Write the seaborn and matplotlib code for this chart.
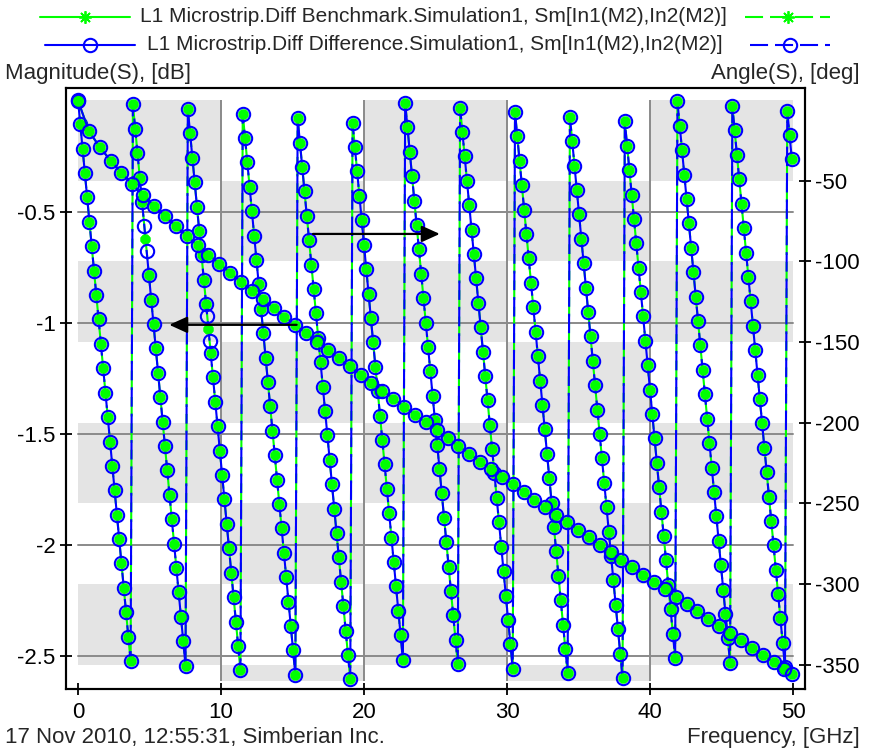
import numpy as np
import pandas as pd
import matplotlib
matplotlib.use("Agg")
import matplotlib.pyplot as plt
import matplotlib.transforms as mtransforms
from matplotlib.lines import Line2D
from matplotlib.patches import Rectangle
import seaborn as sns

# -----------------------------------------------------------------
# data (Sm[In1(M2),In2(M2)])
# -----------------------------------------------------------------

# angle trace, common to both runs
freq_ghz = [
    0.00, 0.16, 0.32, 0.48, 0.64, 0.80, 0.96, 1.12, 1.28, 1.44, 1.60, 1.76, 1.92, 2.08, 2.24, 2.40, 2.56, 2.72, 2.88, 3.04, 3.20, 3.36, 3.52, 3.68, 3.84,
    4.00, 4.16, 4.32, 4.48, 4.96, 5.12, 5.28, 5.44, 5.60, 5.76, 5.92, 6.08, 6.24, 6.40, 6.56, 6.72, 6.88, 7.04, 7.20, 7.36, 7.52, 7.68, 7.84,
    8.00, 8.16, 8.32, 8.48, 8.64, 8.80, 8.96, 9.28, 9.44, 9.60, 9.76, 9.92, 10.08, 10.24, 10.40, 10.56, 10.72, 10.88, 11.04, 11.20, 11.36, 11.52, 11.68, 11.84,
    12.00, 12.16, 12.32, 12.48, 12.64, 12.80, 12.96, 13.12, 13.28, 13.44, 13.60, 13.76, 13.92, 14.08, 14.24, 14.40, 14.56, 14.72, 14.88, 15.04, 15.20, 15.36, 15.52, 15.68, 15.84,
    16.00, 16.16, 16.32, 16.48, 16.64, 16.80, 16.96, 17.12, 17.28, 17.44, 17.60, 17.76, 17.92, 18.08, 18.24, 18.40, 18.56, 18.72, 18.88, 19.04, 19.20, 19.36, 19.52, 19.68, 19.84,
    20.00, 20.16, 20.32, 20.48, 20.64, 20.80, 20.96, 21.12, 21.28, 21.44, 21.60, 21.76, 21.92, 22.08, 22.24, 22.40, 22.56, 22.72, 22.88, 23.04, 23.20, 23.36, 23.52, 23.68, 23.84,
    24.00, 24.16, 24.32, 24.48, 24.64, 24.80, 24.96, 25.12, 25.28, 25.44, 25.60, 25.76, 25.92, 26.08, 26.24, 26.40, 26.56, 26.72, 26.88, 27.04, 27.20, 27.36, 27.52, 27.68, 27.84,
    28.00, 28.16, 28.32, 28.48, 28.64, 28.80, 28.96, 29.12, 29.28, 29.44, 29.60, 29.76, 29.92, 30.08, 30.24, 30.40, 30.56, 30.72, 30.88, 31.04, 31.20, 31.36, 31.52, 31.68, 31.84,
    32.00, 32.16, 32.32, 32.48, 32.64, 32.80, 32.96, 33.12, 33.28, 33.44, 33.60, 33.76, 33.92, 34.08, 34.24, 34.40, 34.56, 34.72, 34.88, 35.04, 35.20, 35.36, 35.52, 35.68, 35.84,
    36.00, 36.16, 36.32, 36.48, 36.64, 36.80, 36.96, 37.12, 37.28, 37.44, 37.60, 37.76, 37.92, 38.08, 38.24, 38.40, 38.56, 38.72, 38.88, 39.04, 39.20, 39.36, 39.52, 39.68, 39.84,
    40.00, 40.16, 40.32, 40.48, 40.64, 40.80, 40.96, 41.12, 41.28, 41.44, 41.60, 41.76, 41.92, 42.08, 42.24, 42.40, 42.56, 42.72, 42.88, 43.04, 43.20, 43.36, 43.52, 43.68, 43.84,
    44.00, 44.16, 44.32, 44.48, 44.64, 44.80, 44.96, 45.12, 45.28, 45.44, 45.60, 45.76, 45.92, 46.08, 46.24, 46.40, 46.56, 46.72, 46.88, 47.04, 47.20, 47.36, 47.52, 47.68, 47.84,
    48.00, 48.16, 48.32, 48.48, 48.64, 48.80, 48.96, 49.12, 49.28, 49.44, 49.60, 49.76, 49.92,
]
angle_deg = [
    0.0, -15.1, -30.2, -45.4, -60.5, -75.6, -90.7, -105.8, -120.9, -136.1, -151.2, -166.3, -181.4, -196.5, -211.7, -226.8, -241.9, -257.0, -272.1, -287.2, -302.4, -317.5, -332.6, -347.7,
    -2.8, -18.0, -33.1, -48.2, -63.3, -108.7, -123.8, -138.9, -154.0, -169.1, -184.3, -199.4, -214.5, -229.6, -244.7, -259.9, -275.0, -290.1, -305.2, -320.3, -335.4, -350.6,
    -5.7, -20.8, -35.9, -51.0, -66.2, -81.3, -96.4, -111.5, -126.6, -156.9, -172.0, -187.1, -202.2, -217.3, -232.5, -247.6, -262.7, -277.8, -292.9, -308.0, -323.2, -338.3, -353.4,
    -8.5, -23.6, -38.8, -53.9, -69.0, -84.1, -99.2, -114.3, -129.5, -144.6, -159.7, -174.8, -189.9, -205.1, -220.2, -235.3, -250.4, -265.5, -280.7, -295.8, -310.9, -326.0, -341.1, -356.2,
    -11.4, -26.5, -41.6, -56.7, -71.8, -87.0, -102.1, -117.2, -132.3, -147.4, -162.6, -177.7, -192.8, -207.9, -223.0, -238.1, -253.3, -268.4, -283.5, -298.6, -313.7, -328.9, -344.0, -359.1,
    -14.2, -29.3, -44.4, -59.6, -74.7, -89.8, -104.9, -120.0, -135.2, -150.3, -165.4, -180.5, -195.6, -210.7, -225.9, -241.0, -256.1, -271.2, -286.3, -301.5, -316.6, -331.7, -346.8,
    -1.9, -17.0, -32.2, -47.3, -62.4, -77.5, -92.6, -107.8, -122.9, -138.0, -153.1, -168.2, -183.4, -198.5, -213.6, -228.7, -243.8, -258.9, -274.1, -289.2, -304.3, -319.4, -334.5, -349.7,
    -4.8, -19.9, -35.0, -50.1, -65.2, -80.4, -95.5, -110.6, -125.7, -140.8, -156.0, -171.1, -186.2, -201.3, -216.4, -231.5, -246.7, -261.8, -276.9, -292.0, -307.1, -322.3, -337.4, -352.5,
    -7.6, -22.7, -37.8, -53.0, -68.1, -83.2, -98.3, -113.4, -128.6, -143.7, -158.8, -173.9, -189.0, -204.1, -219.3, -234.4, -249.5, -264.6, -279.7, -294.9, -310.0, -325.1, -340.2, -355.3,
    -10.5, -25.6, -40.7, -55.8, -70.9, -86.1, -101.2, -116.3, -131.4, -146.5, -161.6, -176.8, -191.9, -207.0, -222.1, -237.2, -252.4, -267.5, -282.6, -297.7, -312.8, -327.9, -343.1, -358.2,
    -13.3, -28.4, -43.5, -58.7, -73.8, -88.9, -104.0, -119.1, -134.2, -149.4, -164.5, -179.6, -194.7, -209.8, -225.0, -240.1, -255.2, -270.3, -285.4, -300.6, -315.7, -330.8, -345.9,
    -1.0, -16.1, -31.3, -46.4, -61.5, -76.6, -91.7, -106.8, -122.0, -137.1, -152.2, -167.3, -182.4, -197.6, -212.7, -227.8, -242.9, -258.0, -273.2, -288.3, -303.4, -318.5, -333.6, -348.7,
    -3.9, -19.0, -34.1, -49.2, -64.3, -79.5, -94.6, -109.7, -124.8, -139.9, -155.0, -170.2, -185.3, -200.4, -215.5, -230.6, -245.8, -260.9, -276.0, -291.1, -306.2, -321.3, -336.5, -351.6,
    -6.7, -21.8, -36.9,
]

# the few points where the two runs part
bench_only_freq = [4.72, 9.12]
bench_only_angle = [-86.0, -141.7]
diff_only_freq = [4.64, 4.80, 9.04, 9.20]
diff_only_angle = [-78.4, -93.6, -134.0, -149.4]

# magnitude trace (same for both runs)
mag_freq_ghz = [
    0.00, 0.76, 1.52, 2.28, 3.04, 3.80, 4.56, 5.32, 6.08, 6.84, 7.60, 8.36, 9.12, 9.88, 10.64, 11.40, 12.16,
    12.92, 13.68, 14.44, 15.20, 15.96, 16.72, 17.48, 18.24, 19.00, 19.76, 20.52, 21.28, 22.04, 22.80, 23.56,
    24.32, 25.08, 25.84, 26.60, 27.36, 28.12, 28.88, 29.64, 30.40, 31.16, 31.92, 32.68, 33.44, 34.20, 34.96,
    35.72, 36.48, 37.24, 38.00, 38.76, 39.52, 40.28, 41.04, 41.80, 42.56, 43.32, 44.08, 44.84, 45.60, 46.36,
    47.12, 47.88, 48.64, 49.40, 49.92,
]
mag_db = [
    0.000, -0.137, -0.209, -0.270, -0.325, -0.377, -0.427, -0.474, -0.520, -0.565, -0.608, -0.651, -0.693, -0.734, -0.775, -0.815, -0.855,
    -0.894, -0.933, -0.972, -1.010, -1.048, -1.085, -1.122, -1.160, -1.196, -1.233, -1.269, -1.305, -1.341, -1.377, -1.413,
    -1.448, -1.484, -1.519, -1.554, -1.589, -1.624, -1.658, -1.693, -1.727, -1.761, -1.796, -1.830, -1.864, -1.898, -1.931,
    -1.965, -1.999, -2.032, -2.066, -2.099, -2.133, -2.166, -2.199, -2.232, -2.265, -2.298, -2.331, -2.364, -2.397, -2.429,
    -2.462, -2.494, -2.527, -2.559, -2.582,
]

freq_ticks = [0, 10, 20, 30, 40, 50]
mag_ticks = [-0.5, -1, -1.5, -2, -2.5]
mag_tick_labels = ["-0.5", "-1", "-1.5", "-2", "-2.5"]
angle_ticks = [0, -50, -100, -150, -200, -250, -300, -350, -360]

BENCH_LABEL = "L1 Microstrip.Diff Benchmark.Simulation1, Sm[In1(M2),In2(M2)]"
DIFF_LABEL = "L1 Microstrip.Diff Difference.Simulation1, Sm[In1(M2),In2(M2)]"

GREEN = "#00ff00"
BLUE = "#0000ff"
BAND = "#e4e4e4"
GRID = "#8a8a8a"

# -----------------------------------------------------------------
# styling
# -----------------------------------------------------------------
sns.set_theme(style="white")
plt.rcParams["font.family"] = ["Liberation Sans", "DejaVu Sans"]
plt.rcParams["axes.unicode_minus"] = False
plt.rcParams["lines.scale_dashes"] = False

BLUE_DASH = (0, (14, 5))
GREEN_DASH = (7, (14, 5))
BENCH_MK = dict(marker=(8, 2, 0), markersize=7, markeredgewidth=2.8,
                markeredgecolor=GREEN, markerfacecolor=GREEN)
DIFF_MK = dict(marker="o", markersize=9.6, markeredgewidth=1.5,
               markeredgecolor=BLUE, markerfacecolor="none")

W, H = 869, 751
fig = plt.figure(figsize=(W / 100, H / 100), dpi=100)
# frame: left 66, right 805, top 88, bottom 689 (pixels)
ax = fig.add_axes([65.7 / W, 1 - 689.3 / H, (805 - 65.7) / W, (689.3 - 87.7) / H])
ax2 = ax.twinx()
ax.set_zorder(2)
ax2.set_zorder(1)
ax.patch.set_visible(False)
ax2.patch.set_facecolor("white")

ax.set_xlim(-0.86, 50.84)
ax.set_ylim(-2.649, 0.058)
ax2.set_ylim(-365.2, 7.5)

# checkered background, 10 GHz x 50 deg cells
for c, (x0, x1) in enumerate(zip(freq_ticks[:-1], freq_ticks[1:])):
    for r, (a0, a1) in enumerate(zip(angle_ticks[:-1], angle_ticks[1:])):
        if (c + r) % 2 == 0:
            ax2.add_patch(Rectangle((x0, a1), x1 - x0, a0 - a1, facecolor=BAND,
                                    edgecolor="none", zorder=0.5))

# grid only inside the data area
ax2.vlines(freq_ticks[1:-1], angle_ticks[-1], angle_ticks[0], color=GRID, lw=1.4, zorder=1)
mag_trans = mtransforms.blended_transform_factory(ax2.transData, ax.transData)
for yv in mag_ticks:
    ax2.plot([freq_ticks[0], freq_ticks[-1]], [yv, yv], color=GRID, lw=1.4,
             transform=mag_trans, zorder=1)

# -----------------------------------------------------------------
# traces
# -----------------------------------------------------------------
shared = pd.DataFrame({"freq": freq_ghz, "angle": angle_deg})
bench_ang = pd.concat([shared, pd.DataFrame({"freq": bench_only_freq, "angle": bench_only_angle})]).sort_values("freq")
diff_ang = pd.concat([shared, pd.DataFrame({"freq": diff_only_freq, "angle": diff_only_angle})]).sort_values("freq")
mag = pd.DataFrame({"freq": mag_freq_ghz, "mag": mag_db})


def trace(axis, df, ycol, color, ls, mk, z):
    sns.lineplot(data=df, x="freq", y=ycol, ax=axis, color=color, linestyle=ls,
                 linewidth=1.5, estimator=None, sort=False, zorder=z)
    sns.lineplot(data=df, x="freq", y=ycol, ax=axis, linestyle="", estimator=None,
                 sort=False, zorder=z + 2, **mk)


# angle on the right axis (behind), magnitude on the left axis (front)
trace(ax2, bench_ang, "angle", GREEN, GREEN_DASH, BENCH_MK, 2)
trace(ax2, diff_ang, "angle", BLUE, BLUE_DASH, DIFF_MK, 3)
trace(ax, mag, "mag", GREEN, "-", BENCH_MK, 2)
trace(ax, mag, "mag", BLUE, "-", DIFF_MK, 3)

# arrows telling which axis each trace belongs to
arrow_kw = dict(arrowstyle="-|>,head_length=0.55,head_width=0.25", mutation_scale=20,
                lw=1.6, color="black", shrinkA=0, shrinkB=0)
ax.annotate("", xy=(25.3, -0.600), xytext=(16.43, -0.600), arrowprops=arrow_kw, zorder=8)
ax.annotate("", xy=(6.38, -1.009), xytext=(15.29, -1.009), arrowprops=arrow_kw, zorder=8)

# ticks
ax.set_xticks(freq_ticks)
ax.set_xticklabels([str(v) for v in freq_ticks])
ax.set_yticks(mag_ticks)
ax.set_yticklabels(mag_tick_labels)
ax2.set_yticks(angle_ticks[1:-1])
ax.set_xlabel("")
ax.set_ylabel("")
ax2.set_ylabel("")
ax2.set_xlabel("")
tick_kw = dict(direction="inout", length=8.6, width=1.3, color="black",
               labelsize=16, labelcolor="black")
ax.tick_params(axis="x", pad=4.5, bottom=True, **tick_kw)
ax.tick_params(axis="y", pad=3, left=True, **tick_kw)
ax2.tick_params(axis="y", pad=3, right=True, **tick_kw)
for a in (ax, ax2):
    for sp in a.spines.values():
        sp.set_color("black")
        sp.set_linewidth(1.5)

# -----------------------------------------------------------------
# header / footer drawn in pixel space
# -----------------------------------------------------------------
lay = fig.add_axes([0, 0, 1, 1], zorder=10)
lay.set_xlim(0, W)
lay.set_ylim(H, 0)
lay.axis("off")
lay.patch.set_visible(False)

LEG_BENCH_MK = dict(marker=(8, 2, 0), markersize=9, markeredgewidth=1.3,
                    markeredgecolor=GREEN, markerfacecolor=GREEN)


def sample(x0, x1, y, color, ls, mk):
    lay.add_line(Line2D([x0, (x0 + x1) / 2, x1], [y, y, y], color=color, linestyle=ls,
                        linewidth=1.5, markevery=[1], **mk))


sample(40, 130, 17, GREEN, "-", LEG_BENCH_MK)
sample(745, 830, 17, GREEN, (0, (13, 5)), LEG_BENCH_MK)
sample(45, 135, 45, BLUE, "-", DIFF_MK)
sample(750, 830, 45, BLUE, (0, (13, 5)), DIFF_MK)
lay.text(140, 17, BENCH_LABEL, fontsize=15, ha="left", va="center")
lay.text(147, 45, DIFF_LABEL, fontsize=15, ha="left", va="center")

lay.text(5, 73, "Magnitude(S), [dB]", fontsize=16, ha="left", va="center")
lay.text(860, 73, "Angle(S), [deg]", fontsize=16, ha="right", va="center")
lay.text(5, 738, "17 Nov 2010, 12:55:31, Simberian Inc.", fontsize=16, ha="left", va="center")
lay.text(860, 738, "Frequency, [GHz]", fontsize=16, ha="right", va="center")

fig.savefig("out.png", dpi=100)
